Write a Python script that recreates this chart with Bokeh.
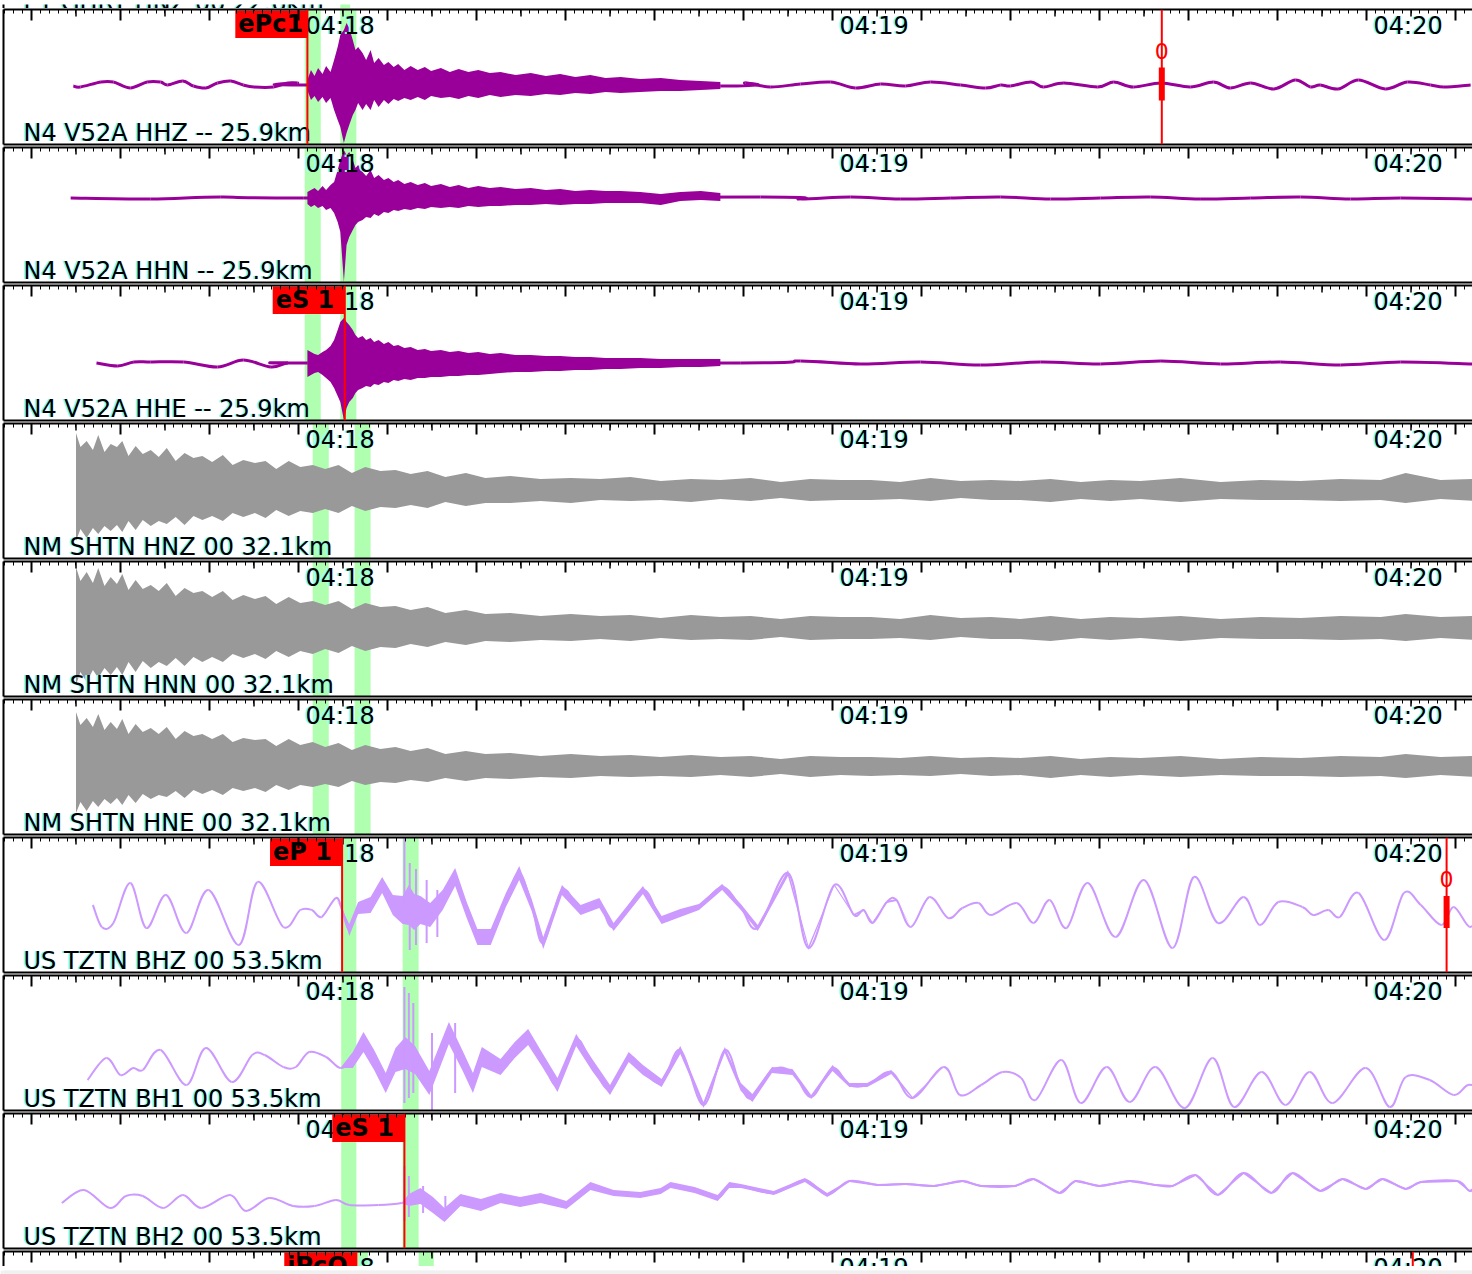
import numpy as np
from bokeh.plotting import figure
from bokeh.layouts import column
from bokeh.models import Range1d, LinearAxis, FixedTicker, Span
from bokeh.core.properties import value
from bokeh.embed import file_html
from bokeh.resources import INLINE

# ---------------- time axis: seconds after 04:17:00 ----------------
VIEW_START = 26.854
VIEW_END = 191.91
minute_ticks = [60, 120, 180]
minute_labels = ["04:18", "04:19", "04:20"]

top_label = "ET GHRT HNZ 00 22.6km"
channel_labels = [
    "N4 V52A HHZ -- 25.9km", "N4 V52A HHN -- 25.9km", "N4 V52A HHE -- 25.9km",
    "NM SHTN HNZ 00 32.1km", "NM SHTN HNN 00 32.1km", "NM SHTN HNE 00 32.1km",
    "US TZTN BHZ 00 53.5km", "US TZTN BH1 00 53.5km", "US TZTN BH2 00 53.5km",
]

# predicted phase windows (green), per station
top_windows = [(64.7, 65.8)]
n4_windows = [(60.7, 62.5), (64.7, 66.5)]
nm_windows = [(61.6, 63.4), (66.3, 68.1)]
us_windows = [(64.8, 66.5), (71.7, 73.5)]
next_windows = [(66.1, 67.8), (73.5, 75.2)]

# phase picks
pick_panel = [0, 2, 6, 8, 9]
pick_time = [61.0, 65.2, 64.9, 71.9, 66.5]
pick_name = ["ePc1", "eS 1", "eP 1", "eS 1", "iPcO"]
amp_panel = [0, 6, 9]
amp_time = [157.0, 189.0, 185.2]
amp_hi = [9.5, 9.0, 9.0]
amp_lo = [-23.5, -23.0, -23.0]

# ---------------- N4 V52A: quiet line + coda envelope ----------------
hhz_t = [34.7, 35.5, 37.8, 39.2, 41.1, 43.0, 44.5, 45.3, 47.0, 48.2, 49.6, 50.9, 52.4, 53.8, 55.0, 57.2, 58.8, 59.9, 61.0,
         107.4, 110.2, 113.0, 116.4, 119.8, 122.6, 125.4, 128.2, 131.0, 134.4, 137.2, 138.9, 140.0, 142.3, 143.7, 146.0,
         149.8, 151.6, 153.8, 156.9, 160.2, 162.8, 164.7, 167.0, 169.6, 172.0, 173.7, 174.8, 176.8, 179.1, 182.1, 184.6,
         187.2, 188.7, 191.7]
hhz_v = [-9, -10, -5, -5, -11, -5, -5, -8, -4, -9, -11, -6, -4, -8, -10, -10, -6, -6, -8,
         -9, -6, -10, -7, -5, -11, -7, -9, -5, -8, -11, -8, -9, -5, -10, -6,
         -10, -5, -10, -6, -10, -5, -11, -6, -12, -3, -10, -8, -12, -3, -12, -5,
         -8, -10, -8]

coda_t = [61.0, 61.4, 61.8, 62.2, 62.7, 63.1, 63.6, 64.0, 64.4, 64.7,
          65.1, 65.4, 65.7, 66.1, 66.4, 66.7, 67.2, 67.6, 68.1, 68.5,
          69.0, 69.6, 70.1, 70.7, 71.2, 71.9, 72.6, 73.4, 74.2, 74.9,
          76.0, 77.0, 78.0, 79.1, 80.2, 81.5, 82.7, 84.4, 86.1, 87.8,
          89.4, 91.1, 92.8, 94.5, 96.2, 98.4, 100.7, 102.9, 105.2, 107.4]
hhz_hi = [-3, 7, 1, 9, 3, 11, 5, 17, 30, 42, 47, 54, 49, 37, 27, 30, 24, 17, 27, 14,
          19, 12, 15, 10, 13, 7, 11, 7, 10, 6, 9, 5, 8, 5, 7, 4, 5, 2, 4, 1,
          3, 0, 2, -1, 0, -2, -1, -3, -4, -5]
hhz_lo = [-13, -23, -19, -25, -20, -26, -21, -33, -43, -50, -66, -56, -48, -38, -33, -26, -33, -27, -33, -23,
          -30, -23, -27, -22, -24, -21, -23, -20, -23, -19, -21, -20, -22, -19, -21, -18, -20, -18, -19, -17,
          -18, -16, -17, -15, -16, -15, -14, -14, -13, -12]

hhn_t = [34.4, 43.4, 51.2, 60.6, 111.9, 116.4, 122.0, 127.6, 133.3, 138.9, 144.5, 150.1, 155.7, 161.3, 167.0, 172.6, 178.2, 183.8, 191.9]
hhn_v = [17, 16, 18, 17, 18, 16, 18, 16, 17, 18, 16, 17, 18, 16, 17, 18, 16, 17, 16]
hhn_hi = [23, 25, 27, 24, 29, 25, 30, 33, 45, 55, 65, 60, 63, 55, 47, 50, 43, 39, 45, 37,
          40, 35, 37, 33, 35, 31, 33, 30, 32, 29, 31, 28, 30, 27, 29, 27, 28, 26, 27, 25,
          26, 24, 25, 24, 24, 23, 21, 23, 24, 22]
hhn_lo = [11, 8, 10, 7, 9, 5, 7, 2, -7, -17, -67, -30, -22, -15, -10, -7, -5, -2, -3, 1,
          -1, 3, 2, 5, 4, 6, 5, 7, 6, 8, 7, 8, 7, 9, 8, 9, 9, 10, 10, 11,
          10, 11, 11, 12, 12, 12, 10, 14, 15, 14]

hhe_t = [37.3, 39.7, 41.5, 43.4, 47.1, 50.9, 53.8, 56.9, 58.8, 61.0,
         109.7, 116.4, 123.2, 129.9, 136.6, 143.4, 150.1, 156.9, 163.6, 170.3, 177.1, 183.8, 191.9]
hhe_v = [-10, -13, -9, -9, -9, -14, -7, -14, -10, -10,
         -10, -8, -11, -9, -12, -9, -11, -8, -11, -9, -12, -9, -11]
hhe_hi = [3, 1, -1, -2, 1, 3, 7, 13, 23, 31, 35, 31, 28, 23, 18, 15, 17, 13, 15, 11,
          13, 9, 11, 7, 8, 5, 6, 3, 4, 2, 3, 1, 2, 0, 1, -1, 0, -2, -2, -3,
          -3, -4, -4, -5, -5, -5, -6, -6, -6, -6]
hhe_lo = [-24, -22, -20, -19, -22, -25, -29, -35, -43, -49, -67, -55, -49, -45, -40, -37, -35, -33, -34, -31,
          -32, -29, -30, -27, -28, -26, -27, -25, -25, -24, -24, -23, -23, -22, -22, -21, -20, -19, -19, -18,
          -18, -17, -17, -16, -16, -15, -15, -14, -14, -13]

# ---------------- NM SHTN: strong-motion envelopes ----------------
shtn_t = [35.0, 35.5, 36.2, 36.9, 37.5, 38.2, 38.9, 39.6, 40.2, 40.9,
          41.7, 42.5, 43.4, 44.3, 45.2, 46.2, 47.2, 48.2, 49.2, 50.3,
          51.5, 52.6, 53.8, 55.1, 56.3, 57.5, 58.9, 60.2, 61.6, 63.0,
          64.5, 66.0, 67.5, 69.2, 70.9, 72.6, 74.5, 76.5, 78.8, 81.0,
          83.8, 87.2, 90.6, 93.9, 97.3, 100.7, 104.1, 107.4, 110.8, 114.2,
          117.5, 120.9, 124.3, 127.6, 131.0, 134.4, 137.8, 141.1, 144.5, 147.9,
          151.2, 154.6, 159.1, 163.6, 168.1, 172.6, 177.1, 181.6, 184.4, 188.3, 192.1]
hnz_hi = [58, 44, 50, 41, 56, 39, 47, 44, 50, 35, 45, 37, 41, 34, 43, 30, 38, 33, 35, 29,
          36, 26, 31, 28, 30, 22, 30, 24, 26, 22, 26, 18, 24, 20, 21, 17, 20, 14, 18, 13,
          15, 12, 13, 12, 14, 10, 12, 11, 13, 9, 12, 11, 11, 9, 13, 10, 11, 10, 12, 9,
          11, 10, 13, 9, 11, 10, 12, 11, 18, 11, 12]
hnz_lo = [-50, -38, -47, -37, -43, -35, -40, -34, -41, -30, -39, -29, -35, -30, -33, -26, -34, -25, -29, -25,
          -30, -22, -26, -22, -27, -19, -25, -20, -22, -18, -22, -15, -20, -16, -17, -14, -17, -11, -15, -12,
          -12, -10, -12, -9, -10, -9, -11, -8, -10, -7, -10, -9, -9, -8, -10, -7, -9, -9, -11, -8,
          -10, -8, -11, -8, -9, -9, -10, -9, -12, -8, -10]
hnn_hi = [62, 48, 57, 46, 61, 43, 52, 45, 55, 39, 49, 40, 44, 38, 46, 33, 41, 36, 38, 32,
          38, 29, 34, 30, 33, 25, 32, 26, 28, 24, 28, 20, 26, 22, 23, 19, 22, 16, 19, 15,
          16, 13, 15, 13, 14, 11, 14, 12, 13, 10, 13, 12, 12, 10, 14, 11, 12, 10, 13, 10,
          12, 11, 13, 10, 12, 11, 13, 12, 15, 12, 13]
hnn_lo = [-56, -43, -53, -41, -49, -39, -46, -38, -46, -33, -43, -32, -39, -33, -37, -29, -37, -28, -33, -28,
          -33, -25, -29, -25, -30, -22, -28, -22, -25, -20, -24, -17, -22, -18, -19, -15, -18, -13, -16, -12,
          -13, -11, -12, -10, -12, -9, -11, -10, -11, -8, -11, -10, -10, -9, -11, -8, -10, -10, -12, -9,
          -11, -9, -12, -9, -10, -10, -11, -10, -12, -9, -11]
hne_hi = [55, 42, 49, 40, 53, 37, 45, 38, 48, 33, 43, 35, 39, 33, 40, 28, 36, 31, 33, 28,
          33, 25, 29, 27, 28, 21, 28, 22, 25, 20, 24, 17, 22, 18, 20, 16, 19, 13, 16, 13,
          14, 11, 13, 11, 12, 10, 12, 10, 11, 8, 11, 10, 10, 9, 11, 9, 10, 9, 11, 8,
          10, 9, 11, 8, 10, 9, 11, 10, 13, 10, 11]
hne_lo = [-46, -35, -44, -34, -40, -32, -37, -31, -38, -28, -36, -27, -32, -28, -30, -24, -31, -23, -27, -23,
          -28, -21, -24, -21, -25, -18, -23, -18, -20, -17, -20, -14, -18, -15, -16, -13, -15, -11, -14, -11,
          -12, -10, -11, -9, -10, -9, -10, -8, -10, -7, -10, -8, -9, -8, -9, -7, -9, -8, -11, -8,
          -10, -8, -10, -8, -9, -9, -10, -9, -11, -8, -10]

# ---------------- US TZTN: centre line + noise half-width ----------------
bhz_t = [36.9, 37.9, 39.2, 41.1, 42.9, 45.1, 47.4, 49.9, 53.3, 55.4, 58.3, 60.2, 61.5, 62.6, 64.2, 64.9, 65.7, 66.7, 68.1, 69.4,
         70.6, 71.7, 72.4, 73.0, 73.7, 74.8, 76.2, 77.6, 78.9, 80.1, 81.6, 83.3, 84.8, 86.2, 87.5, 89.6, 91.7, 93.8, 95.4, 98.7,
         100.8, 102.9, 105.0, 107.6, 109.7, 111.6, 115.0, 117.3, 120.2, 122.4, 123.5, 124.5, 126.1, 127.2, 128.8, 130.9, 133.0, 134.6, 136.4, 137.8,
         140.7, 142.6, 144.4, 146.3, 148.7, 151.8, 155.0, 158.2, 160.6, 163.3, 166.2, 168.0, 170.1, 172.8, 174.0, 175.7, 177.0, 179.1, 182.0, 184.2,
         186.1, 188.4, 189.8, 191.6, 192.8]
bhz_v = [0, -22, -18, 22, -23, 10, -28, 15, -40, 23, -22, -5, -5, -12, 7, -5, -25, -3, 0, 20,
         0, -5, 0, -7, -5, -10, 5, 28, -5, -32, -32, 5, 32, 0, -38, 15, -5, 2, -22, 15,
         -15, -8, -2, 18, -2, -23, 32, -43, 20, -10, -5, -18, 3, 5, -22, 8, -13, -3, 2, -10,
         2, -18, 5, -23, 22, -32, 25, -43, 28, -18, 8, -20, 3, -2, -10, -5, -12, 12, -35, 12,
         0, -20, -2, -22, -7]
bhz_w = [0, 0, 0, 0, 0, 0, 0, 0, 0, 0, 0, 0, 0, 0, 0, 1, 6, 6, 8, 8,
         10, 14, 20, 18, 14, 12, 10, 9, 8, 8, 8, 7, 7, 6, 6, 5, 5, 5, 4, 4,
         4, 4, 3, 3, 3, 3, 3, 2, 1, 1, 1, 1, 1, 1, 0, 0, 0, 0, 0, 0,
         0, 0, 0, 0, 0, 0, 0, 0, 0, 0, 0, 0, 0, 0, 0, 0, 0, 0, 0, 0,
         0, 0, 0, 0, 0]
bhz_spike_t = [71.9, 72.5, 73.2, 74.4, 75.6]
bhz_spike_hi = [67, 42, 36, 25, 15]
bhz_spike_lo = [0, -45, -40, -38, -32]

bh1_t = [36.3, 38.4, 40.0, 41.4, 42.5, 44.5, 47.4, 49.6, 52.5, 54.8, 56.2, 58.3, 59.7, 61.2, 63.1, 64.7, 66.1, 67.3, 68.5, 69.8,
         70.9, 72.0, 73.1, 74.7, 76.9, 78.4, 79.6, 80.6, 82.7, 84.3, 85.8, 87.4, 89.1, 91.2, 93.0, 95.0, 97.1, 98.7, 100.8, 102.9,
         105.5, 107.9, 109.7, 111.0, 113.2, 115.5, 117.6, 120.0, 121.9, 123.9, 126.6, 129.0, 132.5, 134.3, 136.7, 139.1, 141.2, 142.8, 145.7, 147.9,
         150.8, 153.4, 156.3, 159.6, 162.7, 165.1, 168.2, 170.9, 173.6, 176.2, 179.9, 182.6, 184.4, 187.1, 189.8, 191.4, 192.8]
bh1_v = [-37, -15, -32, -25, -27, -7, -42, -5, -39, -12, -12, -24, -24, -9, -14, -25, -17, 1, -17, -40,
         -17, -10, -17, -40, 10, -17, -40, -14, -24, -7, 6, -17, -42, 3, -22, -47, -14, -27, -40, -7,
         -62, -7, -44, -55, -27, -29, -54, -25, -42, -42, -29, -55, -24, -52, -42, -29, -35, -57, -17, -60,
         -24, -59, -24, -65, -15, -64, -29, -62, -29, -60, -25, -64, -34, -37, -52, -42, -45]
bh1_w = [0, 0, 0, 0, 0, 0, 0, 0, 0, 0, 0, 0, 0, 0, 0, 0, 8, 10, 10, 10,
         12, 16, 14, 12, 11, 10, 10, 10, 8, 8, 8, 7, 7, 6, 6, 5, 5, 5, 4, 4,
         3, 3, 4, 4, 3, 3, 2, 3, 2, 2, 2, 1, 0, 0, 0, 0, 0, 0, 0, 0,
         0, 0, 0, 0, 0, 0, 0, 0, 0, 0, 0, 0, 0, 0, 0, 0, 0]
bh1_spike_t = [71.9, 72.4, 72.9, 75.0, 77.6]
bh1_spike_hi = [56, 50, 40, 10, 20]
bh1_spike_lo = [-60, -55, -50, -67, -50]

bh2_t = [33.4, 35.9, 38.8, 40.6, 42.5, 44.8, 47.0, 49.1, 52.3, 54.1, 56.7, 59.4, 61.8, 64.2, 65.7, 69.0, 71.6, 72.4, 73.7, 75.1,
         76.4, 78.2, 80.5, 82.7, 84.9, 87.2, 90.1, 92.8, 95.4, 98.4, 100.7, 101.8, 104.5, 107.1, 108.4, 109.7, 113.4, 116.9, 119.4, 121.9,
         125.1, 128.2, 131.4, 134.6, 136.7, 140.5, 142.6, 145.5, 147.3, 150.0, 153.4, 156.3, 158.2, 160.8, 163.3, 166.2, 169.3, 171.7, 174.8, 177.3,
         179.9, 181.8, 184.4, 186.1, 190.2, 191.6, 192.8]
bh2_v = [-22, -9, -27, -15, -15, -27, -14, -27, -14, -30, -17, -25, -25, -19, -24, -24, -22, -19, -15, -24,
         -34, -19, -24, -17, -21, -17, -24, -5, -12, -14, -10, -4, -9, -17, -4, -5, -12, 1, -14, 0,
         -4, -3, -5, 0, -5, -5, 2, -12, 0, -5, 0, -4, -5, 6, -14, 8, -12, 8, -10, 2,
         -8, 2, -8, -1, 0, -10, -3]
bh2_w = [0, 0, 0, 0, 0, 0, 0, 0, 0, 0, 0, 0, 0, 0, 0, 0, 0, 6, 8, 8,
         7, 6, 6, 5, 5, 5, 4, 4, 3, 3, 3, 3, 3, 3, 3, 2, 2, 2, 2, 1,
         1, 1, 1, 1, 1, 1, 1, 1, 1, 1, 1, 1, 1, 1, 1, 1, 1, 1, 1, 1,
         1, 1, 1, 1, 1, 1, 1]
bh2_spike_t = [71.9, 72.4, 74.0, 76.5]
bh2_spike_hi = [15, 5, -5, -15]
bh2_spike_lo = [-40, -36, -32, -38]

# ---------------- styling ----------------
FONT = "DejaVu Sans"
DARK = "#990099"
GRAY = "#999999"
LILAC = "#cc99ff"
GREEN = "#b0ffb0"
CYAN = "#80ffff"
RED = "#ff0000"
YTOP = 67.5
W = 1472
LABEL_RAISE = 11.5   # channel label sits just above the panel bottom
TIME_DROP = 16.0     # minute label sits just below the tick row

xr = Range1d(VIEW_START, VIEW_END)
major_ticks = list(range(30, 200, 10))
minor_ticks = list(range(27, 193))
medium_ticks = list(range(35, 195, 10))


def border_axis(ticked):
    if ticked:
        ax = LinearAxis(ticker=FixedTicker(ticks=major_ticks, minor_ticks=minor_ticks))
        ax.major_tick_in = 11
        ax.minor_tick_in = 4
        ax.major_label_overrides = {t: "" for t in major_ticks}
    else:
        ax = LinearAxis(ticker=FixedTicker(ticks=[], minor_ticks=[]))
        ax.major_tick_in = 0
        ax.minor_tick_in = 0
    ax.major_tick_out = 0
    ax.minor_tick_out = 0
    ax.major_tick_line_width = 2
    ax.minor_tick_line_width = 1
    ax.axis_line_width = 2
    ax.axis_line_color = "black"
    ax.major_label_text_font_size = "1px"
    ax.major_label_standoff = 0
    return ax


def make_panel(height, ymin, ymax, btop, bbottom, top_axis=True, bottom_axis=True):
    p = figure(width=W, height=height, x_range=xr, y_range=Range1d(ymin, ymax),
               output_backend="svg", toolbar_location=None,
               x_axis_location=None, y_axis_location=None,
               min_border_left=3, min_border_right=0, min_border_top=btop,
               min_border_bottom=bbottom)
    p.grid.visible = False
    p.outline_line_color = None
    p.background_fill_color = "white"
    p.border_fill_color = "white"
    if top_axis:
        p.add_layout(border_axis(True), "above")
    if bottom_axis:
        p.add_layout(border_axis(False), "below")
    p.add_layout(border_axis(False), "left")
    return p


def add_windows(p, windows):
    p.quad(left=[w[0] for w in windows], right=[w[1] for w in windows],
           bottom=-80, top=80, fill_color=GREEN, line_color=None)


def add_ticks_and_times(p):
    p.segment(x0=medium_ticks, y0=YTOP, x1=medium_ticks, y1=YTOP - 7, line_color="black", line_width=1.5)
    p.text(x=minute_ticks, y=YTOP - TIME_DROP, text=minute_labels, x_offset=5,
           text_font=value(FONT), text_font_size="24px", text_color=CYAN, text_baseline="alphabetic")
    p.text(x=minute_ticks, y=YTOP - TIME_DROP, text=minute_labels, x_offset=7,
           text_font=value(FONT), text_font_size="24px", text_color="black", text_baseline="alphabetic")


def add_channel_label(p, label, ybase):
    p.text(x=[VIEW_START], y=[ybase], text=[label], x_offset=18,
           text_font=value(FONT), text_font_size="24px", text_color=CYAN, text_baseline="alphabetic")
    p.text(x=[VIEW_START], y=[ybase], text=[label], x_offset=20,
           text_font=value(FONT), text_font_size="24px", text_color="black", text_baseline="alphabetic")


def add_picks(p, k):
    for i, pk in enumerate(pick_panel):
        if pk == k:
            t = pick_time[i]
            p.add_layout(Span(location=t, dimension="height", line_color=RED, line_width=2))
            p.quad(left=[t - 8.1], right=[t], top=[YTOP - 1], bottom=[YTOP - 28.5],
                   fill_color=RED, line_color=None)
            p.text(x=[t - 8.1], y=[YTOP - 14.5], text=[pick_name[i]], x_offset=3,
                   text_font=value(FONT), text_font_size="24px", text_font_style="bold",
                   text_color="black", text_baseline="middle")
    for i, pk in enumerate(amp_panel):
        if pk == k:
            t = amp_time[i]
            p.add_layout(Span(location=t, dimension="height", line_color=RED, line_width=2))
            p.segment(x0=[t], y0=[amp_hi[i]], x1=[t], y1=[amp_lo[i]], line_color=RED, line_width=6)
            p.text(x=[t], y=[26.5], text=["0"], text_font=value(FONT), text_font_size="22px",
                   text_color=RED, text_align="center", text_baseline="middle")


def smooth_line(p, t, v, color, width):
    """Draw a smooth curve through the read points (Catmull-Rom as cubic Bezier)."""
    n = len(t)
    x0, y0, x1, y1, cx0, cy0, cx1, cy1 = [], [], [], [], [], [], [], []
    for i in range(n - 1):
        ip = max(i - 1, 0)
        i2 = min(i + 2, n - 1)
        x0.append(t[i]); y0.append(v[i]); x1.append(t[i + 1]); y1.append(v[i + 1])
        cx0.append(t[i] + (t[i + 1] - t[ip]) / 6.0)
        cy0.append(v[i] + (v[i + 1] - v[ip]) / 6.0)
        cx1.append(t[i + 1] - (t[i2] - t[i]) / 6.0)
        cy1.append(v[i + 1] - (v[i2] - v[i]) / 6.0)
    p.bezier(x0=x0, y0=y0, x1=x1, y1=y1, cx0=cx0, cy0=cy0, cx1=cx1, cy1=cy1,
             line_color=color, line_width=width)


def add_lilac(p, t, v, w, st, shi, slo):
    lo = [a - b for a, b in zip(v, w)]
    hi = [a + b for a, b in zip(v, w)]
    p.varea(x=t, y1=lo, y2=hi, fill_color=LILAC)
    smooth_line(p, t, v, LILAC, 2)
    p.segment(x0=st, y0=shi, x1=st, y1=slo, line_color=LILAC, line_width=2)


panels = []

# bottom sliver of the channel above (scrolled off)
top = make_panel(8, -67.5, -62.5, 0, 3, top_axis=False, bottom_axis=True)
add_windows(top, top_windows)
add_channel_label(top, top_label, -67.5 + 6.5)
panels.append(top)

YMIN = -YTOP
for k in range(9):
    p = make_panel(138, YMIN, YTOP, 1, 2)
    if k < 3:
        add_windows(p, n4_windows)
    elif k < 6:
        add_windows(p, nm_windows)
    else:
        add_windows(p, us_windows)

    if k == 0:
        p.varea(x=coda_t, y1=hhz_lo, y2=hhz_hi, fill_color=DARK)
        smooth_line(p, hhz_t, hhz_v, DARK, 3)
    elif k == 1:
        p.varea(x=coda_t, y1=hhn_lo, y2=hhn_hi, fill_color=DARK)
        smooth_line(p, hhn_t, hhn_v, DARK, 3)
    elif k == 2:
        p.varea(x=coda_t, y1=hhe_lo, y2=hhe_hi, fill_color=DARK)
        smooth_line(p, hhe_t, hhe_v, DARK, 3)
    elif k == 3:
        p.varea(x=shtn_t, y1=hnz_lo, y2=hnz_hi, fill_color=GRAY)
    elif k == 4:
        p.varea(x=shtn_t, y1=hnn_lo, y2=hnn_hi, fill_color=GRAY)
    elif k == 5:
        p.varea(x=shtn_t, y1=hne_lo, y2=hne_hi, fill_color=GRAY)
    elif k == 6:
        add_lilac(p, bhz_t, bhz_v, bhz_w, bhz_spike_t, bhz_spike_hi, bhz_spike_lo)
    elif k == 7:
        add_lilac(p, bh1_t, bh1_v, bh1_w, bh1_spike_t, bh1_spike_hi, bh1_spike_lo)
    elif k == 8:
        add_lilac(p, bh2_t, bh2_v, bh2_w, bh2_spike_t, bh2_spike_hi, bh2_spike_lo)

    add_ticks_and_times(p)
    add_channel_label(p, channel_labels[k], YMIN + LABEL_RAISE)
    add_picks(p, k)
    panels.append(p)

# partially visible next channel at the bottom
last = make_panel(16, YTOP - 15, YTOP, 1, 0, top_axis=True, bottom_axis=False)
add_windows(last, next_windows)
add_ticks_and_times(last)
add_picks(last, 9)
panels.append(last)

# scrollbar strip
strip = figure(width=W, height=8, output_backend="svg", toolbar_location=None,
               x_axis_location=None, y_axis_location=None, x_range=Range1d(0, 1), y_range=Range1d(0, 1),
               min_border=0)
strip.grid.visible = False
strip.outline_line_color = None
strip.background_fill_color = "#f0f0f0"
strip.border_fill_color = "#f0f0f0"
strip.quad(left=[0], right=[1], bottom=[0], top=[1], fill_color="#f0f0f0", line_color=None)
panels.append(strip)

layout = column(*panels, spacing=0)
open("out.html", "w").write(file_html(layout, INLINE))
